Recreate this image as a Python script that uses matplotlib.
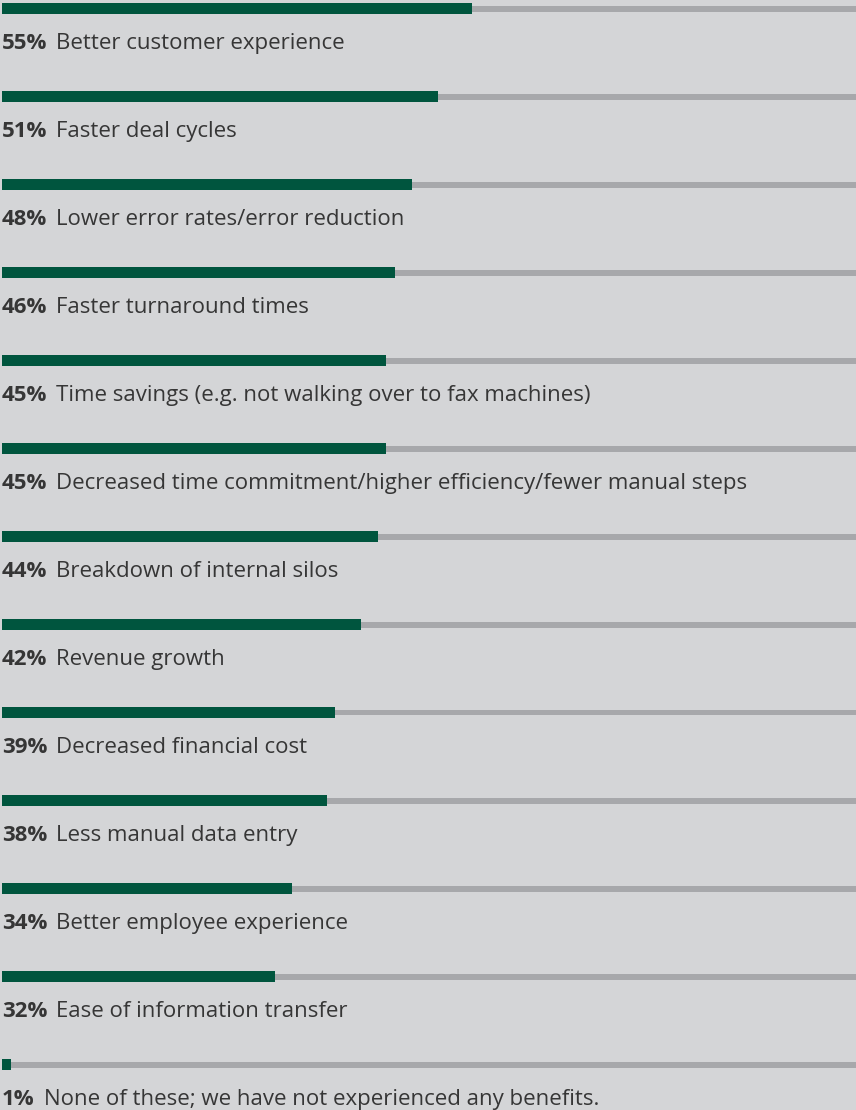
import matplotlib
matplotlib.use("Agg")
import matplotlib.pyplot as plt

values = [55, 51, 48, 46, 45, 45, 44, 42, 39, 38, 34, 32, 1]
labels = [
    "Better customer experience",
    "Faster deal cycles",
    "Lower error rates/error reduction",
    "Faster turnaround times",
    "Time savings (e.g. not walking over to fax machines)",
    "Decreased time commitment/higher efficiency/fewer manual steps",
    "Breakdown of internal silos",
    "Revenue growth",
    "Decreased financial cost",
    "Less manual data entry",
    "Better employee experience",
    "Ease of information transfer",
    "None of these; we have not experienced any benefits.",
]

BG = "#d4d5d7"
GREEN = "#00553e"
TRACK = "#a7a8ab"
TXT = "#363636"
FONT = "Open Sans"
FS = 16.0

W, H = 856, 1110
fig = plt.figure(figsize=(W / 100, H / 100), dpi=100, facecolor=BG)
ax = fig.add_axes([0, 0, 1, 1])
ax.set_facecolor(BG)

px_per = 8.54
x0 = 2
ax.set_xlim(-x0 / px_per, (W - x0) / px_per)
row = 88.0
yc0 = 8.5
ax.set_ylim((H - yc0) / row, -yc0 / row)
ax.axis("off")

n = len(values)
ys = list(range(n))
ax.barh(ys, [100] * n, height=6 / row, left=0, color=TRACK, zorder=1)
ax.barh(ys, values, height=11 / row, left=0, color=GREEN, zorder=2)

for i, (v, lab) in enumerate(zip(values, labels)):
    t = ax.text(0, i + 40.5 / row, f"{v}%", fontsize=FS, fontweight="bold",
                family=FONT, color=TXT, va="baseline", ha="left")
    ax.annotate(lab, xy=(1, 0), xycoords=t, xytext=(6.5, 0),
                textcoords="offset points", fontsize=FS, family=FONT,
                color=TXT, va="bottom", ha="left")

fig.savefig("out.png", dpi=100, facecolor=BG)
